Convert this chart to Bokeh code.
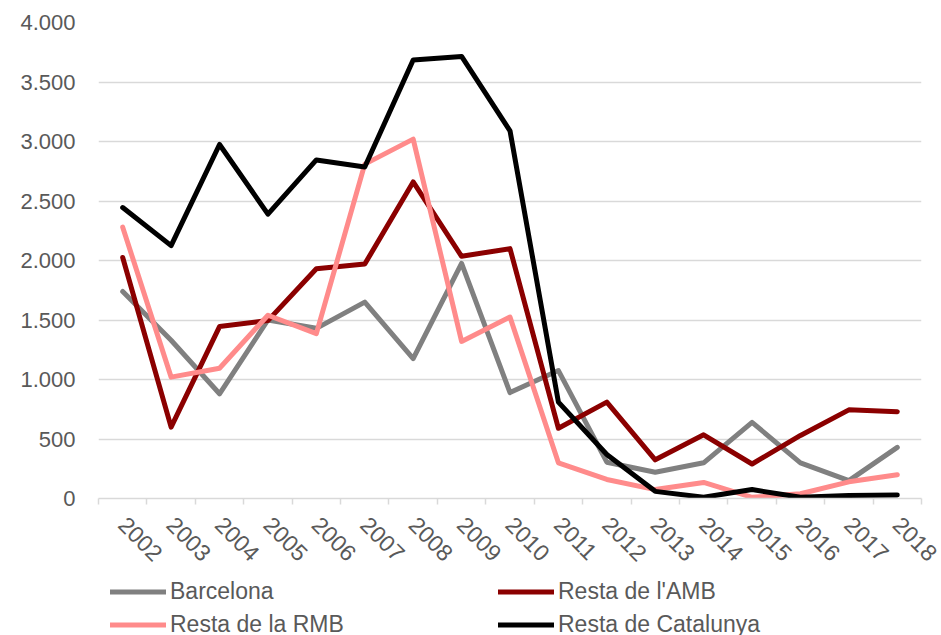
import math
from bokeh.plotting import figure
from bokeh.layouts import column
from bokeh.models import (Range1d, FixedTicker, Legend, LegendItem, ColumnDataSource)
from bokeh.embed import file_html
from bokeh.resources import INLINE

# ---- data ----
years = ["2002", "2003", "2004", "2005", "2006", "2007", "2008", "2009", "2010",
         "2011", "2012", "2013", "2014", "2015", "2016", "2017", "2018"]
barcelona = [1740, 1330, 880, 1500, 1430, 1650, 1175, 1975, 890, 1075, 305, 220,
             300, 640, 300, 150, 430]
resta_amb = [2025, 600, 1445, 1495, 1930, 1970, 2660, 2035, 2100, 590, 810, 325,
             535, 290, 530, 745, 730]
resta_rmb = [2280, 1020, 1095, 1540, 1385, 2810, 3020, 1320, 1525, 300, 160, 75,
             135, 10, 40, 140, 200]
resta_cat = [2445, 2125, 2975, 2390, 2845, 2785, 3685, 3715, 3090, 810, 370, 60,
             10, 75, 10, 25, 30]
series_keys = ["barcelona", "resta_amb", "resta_rmb", "resta_cat"]
series_names = ["Barcelona", "Resta de l'AMB", "Resta de la RMB", "Resta de Catalunya"]
series_colors = ["#808080", "#8B0000", "#FF8B8B", "#000000"]
y_ticks = [0, 500, 1000, 1500, 2000, 2500, 3000, 3500, 4000]
y_tick_labels = ["0", "500", "1.000", "1.500", "2.000", "2.500", "3.000", "3.500", "4.000"]

FONT = "Liberation Sans"
TXT = "#595959"
GRID = "#D9D9D9"

xs = list(range(len(years)))
source = ColumnDataSource(dict(x=xs, barcelona=barcelona, resta_amb=resta_amb,
                               resta_rmb=resta_rmb, resta_cat=resta_cat))

# ---- main chart ----
p = figure(width=941, height=575, output_backend="svg", toolbar_location=None,
           x_range=Range1d(-0.5, len(years) - 0.5), y_range=Range1d(0, 4000),
           min_border_left=98, min_border_right=20, min_border_top=22,
           min_border_bottom=77)
p.outline_line_color = None
p.background_fill_color = "white"
p.border_fill_color = "white"

p.yaxis.ticker = FixedTicker(ticks=y_ticks)
p.yaxis.major_label_overrides = {t: l for t, l in zip(y_ticks, y_tick_labels)}
p.yaxis.axis_line_color = None
p.yaxis.major_tick_line_color = None
p.yaxis.minor_tick_line_color = None
p.yaxis.major_tick_out = 0
p.yaxis.major_tick_in = 0
p.yaxis.major_label_standoff = 23
p.yaxis.major_label_text_font = FONT
p.yaxis.major_label_text_font_size = "22px"
p.yaxis.major_label_text_color = TXT

p.ygrid.grid_line_color = GRID
p.ygrid.grid_line_width = 1.5
p.xgrid.visible = False

boundaries = [i - 0.5 for i in range(len(years) + 1)]
p.xaxis.ticker = FixedTicker(ticks=xs, minor_ticks=boundaries)
p.xaxis.major_label_overrides = {i: y for i, y in enumerate(years)}
p.xaxis.axis_line_color = GRID
p.xaxis.axis_line_width = 1.5
p.xaxis.major_tick_line_color = None
p.xaxis.major_tick_out = 0
p.xaxis.major_tick_in = 0
p.xaxis.minor_tick_line_color = GRID
p.xaxis.minor_tick_line_width = 1.5
p.xaxis.minor_tick_out = 6
p.xaxis.minor_tick_in = 0
p.xaxis.major_label_orientation = -math.pi / 4
p.xaxis.major_label_standoff = 16
p.xaxis.major_label_text_font = FONT
p.xaxis.major_label_text_font_size = "23px"
p.xaxis.major_label_text_color = TXT

for key, col in zip(series_keys, series_colors):
    p.line(x="x", y=key, source=source, line_width=5, line_color=col,
           line_join="round", line_cap="round")

# ---- legend strip (same series; its data lies outside this strip's ranges) ----
lg = figure(width=941, height=60, output_backend="svg", toolbar_location=None,
            x_range=Range1d(1000, 1001), y_range=Range1d(-10, -9),
            min_border_left=0, min_border_right=0, min_border_top=0,
            min_border_bottom=0)
lg.axis.visible = False
lg.grid.visible = False
lg.outline_line_color = None
lg.border_fill_color = "white"
lg.background_fill_color = "white"

items = []
for key, name, col in zip(series_keys, series_names, series_colors):
    r = lg.line(x="x", y=key, source=source, line_width=5, line_color=col,
                line_cap="round")
    items.append(LegendItem(label=name, renderers=[r]))

legend = Legend(items=items, orientation="horizontal", ncols=2,
                location=(12, -6), margin=0, padding=0, spacing=0,
                glyph_width=56, glyph_height=33, label_height=33,
                label_width=328, label_standoff=4,
                border_line_color=None, background_fill_alpha=0,
                label_text_font=FONT, label_text_font_size="23px",
                label_text_color=TXT)
lg.add_layout(legend, "center")

layout = column(p, lg, spacing=0)
open("out.html", "w").write(file_html(layout, INLINE))
